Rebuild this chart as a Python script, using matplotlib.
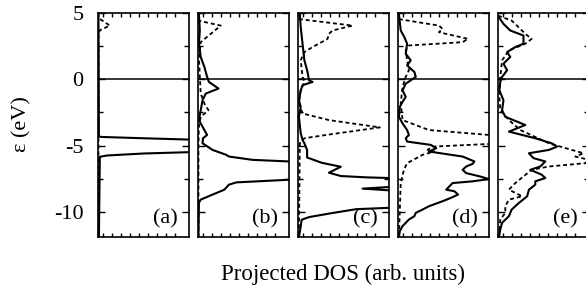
import matplotlib.pyplot as plt
from matplotlib.ticker import FixedLocator, FuncFormatter

plt.rcParams['font.family'] = ['Liberation Serif', 'DejaVu Serif']

# energies (eV) and projected DOS (arb. units, 1 = panel width) per panel
a_solid_e = [5.0, -4.3, -4.35, -4.45, -4.55, -4.62, -5.45, -5.5, -5.6, -5.75, -5.85, -11.9]
a_solid_d = [0.005, 0.01, 0.03, 0.5, 1.0, 1.3, 1.3, 1.0, 0.5, 0.1, 0.02, 0.01]
a_dot_e = [5.0, 4.6, 4.05, 3.7, 3.3, -11.9]
a_dot_d = [0.0, 0.01, 0.13, 0.02, 0.005, 0.005]

b_solid_e = [4.93, 3.68, 2.68, 1.68, 0.93, 0.18, -0.2, -0.7, -1.08, -1.58, -2.33, -3.08, -3.83, -4.2,
             -4.45, -4.83, -5.33, -5.7, -5.83, -6.08, -6.2, -6.33, -7.45, -7.58, -7.78, -7.95, -8.33,
             -8.7, -9.08, -9.33, -11.9]
b_solid_d = [0.01, 0.02, 0.01, 0.03, 0.07, 0.10, 0.12, 0.225, 0.085, 0.05, 0.03, 0.01, 0.07, 0.10,
             0.055, 0.05, 0.16, 0.31, 0.34, 0.6, 1.0, 1.3, 1.3, 1.0, 0.42, 0.34, 0.29,
             0.16, 0.03, 0.01, 0.005]
b_dot_e = [5.0, 4.43, 4.05, 2.8, 1.68, 0.18, -1.08, -1.83, -2.33, -2.83, -3.58, -4.83, -11.9]
b_dot_d = [0.0, 0.0, 0.25, 0.03, 0.01, 0.02, 0.03, 0.07, 0.115, 0.03, 0.01, 0.005, 0.005]

c_solid_e = [4.93, 3.93, 2.68, 1.43, 0.68, 0.18, -0.08, -0.2, -0.45, -0.83, -1.58, -2.08, -2.83,
             -4.08, -4.58, -4.83, -5.33, -5.9, -6.3, -6.6, -7.05, -7.3, -7.4, -7.45, -7.5,
             -8.03, -8.13, -8.25, -8.38, -8.48, -9.6, -9.7, -9.8, -10.1, -10.4, -10.6, -11.1,
             -11.9]
c_solid_d = [0.02, 0.03, 0.05, 0.07, 0.10, 0.115, 0.12, 0.16, 0.05, 0.03, 0.01, 0.03, 0.01,
             0.03, 0.05, 0.07, 0.10, 0.10, 0.26, 0.47, 0.34, 0.47, 0.75, 1.0, 1.3,
             1.3, 1.0, 0.71, 1.0, 1.3, 1.3, 1.0, 0.64, 0.37, 0.12, 0.04, 0.03,
             0.01]
c_dot_e = [5.0, 4.55, 4.05, 3.68, 3.43, 3.05, 2.43, 2.05, 1.43, 0.18, -0.2, -0.83, -1.83, -2.58,
           -3.08, -3.63, -4.2, -4.45, -4.83, -11.9]
c_dot_d = [0.0, 0.0, 0.6, 0.38, 0.34, 0.325, 0.16, 0.07, 0.03, 0.05, 0.07, 0.03, 0.01, 0.05,
           0.34, 0.9, 0.31, 0.07, 0.02, 0.01]

d_solid_e = [4.93, 3.68, 3.18, 2.68, 1.93, 1.43, 1.05, 0.55, 0.18, -0.08, -0.33, -0.83, -1.33,
             -1.7, -2.08, -2.83, -3.33, -3.83, -4.2, -4.45, -4.7, -4.95, -5.2, -5.45, -5.83, -6.2,
             -6.38, -6.58, -6.83, -7.08, -7.33, -7.53, -7.7, -7.83, -8.08, -8.33, -8.45, -8.7,
             -8.95, -9.2, -9.58, -9.83, -10.08, -10.33, -10.58, -11.08, -11.45, -11.9]
d_solid_d = [0.01, 0.03, 0.07, 0.10, 0.085, 0.14, 0.10, 0.18, 0.195, 0.14, 0.085, 0.05, 0.085,
             0.05, 0.02, 0.01, 0.05, 0.10, 0.12, 0.085, 0.10, 0.36, 0.42, 0.34, 0.71, 0.84,
             0.82, 0.75, 0.71, 0.75, 0.9, 1.0, 0.82, 0.6, 0.565, 0.53, 0.62, 0.66,
             0.58, 0.49, 0.34, 0.27, 0.195, 0.18, 0.12, 0.05, 0.02, 0.01]
d_dot_e = [5.0, 4.55, 4.05, 3.8, 3.55, 3.05, 2.8, 2.55, 2.18, 1.43, 0.68, 0.18, -0.58, -1.83,
           -3.08, -3.83, -4.2, -4.33, -4.7, -4.88, -5.08, -5.33, -5.45, -5.7, -6.33, -6.83,
           -7.83, -11.9]
d_dot_d = [0.0, 0.0, 0.45, 0.49, 0.45, 0.77, 0.71, 0.12, 0.085, 0.10, 0.12, 0.085, 0.05, 0.03,
           0.05, 0.34, 1.0, 1.3, 1.3, 1.0, 0.38, 0.325, 0.40, 0.27, 0.10, 0.065,
           0.03, 0.01]

e_solid_e = [4.68, 4.18, 3.68, 3.3, 2.68, 2.43, 2.05, 1.68, 1.18, 0.68, 0.18, -0.2, -0.83, -1.58,
             -2.33, -2.83, -3.45, -3.95, -4.45, -4.83, -5.08, -5.33, -5.58, -5.95, -6.2, -6.58,
             -6.83, -7.2, -7.45, -7.7, -7.95, -8.33, -8.83, -9.33, -9.83, -10.33, -10.83,
             -11.33, -11.9]
e_solid_d = [0.01, 0.06, 0.135, 0.28, 0.28, 0.19, 0.10, 0.135, 0.06, 0.10, 0.045, 0.025, 0.015,
             0.06, 0.045, 0.08, 0.30, 0.12, 0.41, 0.59, 0.65, 0.56, 0.34, 0.39, 0.52, 0.465,
             0.355, 0.48, 0.52, 0.41, 0.41, 0.34, 0.32, 0.23, 0.15, 0.12, 0.045,
             0.025, 0.01]
e_dot_e = [4.8, 4.43, 3.43, 3.05, 2.68, 2.18, 1.43, 0.18, -1.33, -2.33, -3.08, -3.83, -4.83,
           -5.33, -5.58, -5.83, -6.08, -6.33, -6.58, -6.83, -7.33, -7.83, -8.33, -8.83, -9.08,
           -9.58, -10.08, -10.58, -11.9]
e_dot_d = [0.0, 0.15, 0.30, 0.37, 0.30, 0.12, 0.045, 0.025, 0.015, 0.025, 0.12, 0.245, 0.56,
           0.81, 0.94, 0.85, 1.0, 0.96, 0.56, 0.37, 0.28, 0.19, 0.12, 0.265, 0.12,
           0.08, 0.08, 0.025, 0.01]

panel_labels = ['(a)', '(b)', '(c)', '(d)', '(e)']
solid = [(a_solid_e, a_solid_d), (b_solid_e, b_solid_d), (c_solid_e, c_solid_d),
         (d_solid_e, d_solid_d), (e_solid_e, e_solid_d)]
dotted = [(a_dot_e, a_dot_d), (b_dot_e, b_dot_d), (c_dot_e, c_dot_d),
          (d_dot_e, d_dot_d), (e_dot_e, e_dot_d)]

W, H = 586, 292
fig = plt.figure(figsize=(W / 100, H / 100), dpi=100)

for i, lab in enumerate(panel_labels):
    left = 98 + 100 * i
    ax = fig.add_axes([left / W, 55 / H, 91 / W, 224 / H])
    se, sd = solid[i]
    de, dd = dotted[i]
    ax.plot(dd, de, color='black', lw=1.3, ls=(0, (2.2, 1.6)))
    ax.plot(sd, se, color='black', lw=1.5)
    ax.axhline(0, color='black', lw=1.1)
    ax.set_xlim(0, 1)
    ax.set_ylim(-11.9, 5)
    ax.yaxis.set_major_locator(FixedLocator([5, 0, -5, -10]))
    ax.yaxis.set_minor_locator(FixedLocator([2.5, -2.5, -7.5]))
    ax.xaxis.set_major_locator(FixedLocator([]))
    ax.xaxis.set_minor_locator(FixedLocator([0.05 + 0.1 * k for k in range(9)]))
    ax.tick_params(axis='both', which='both', direction='in', top=True, right=True,
                   width=1.0, color='black')
    ax.tick_params(axis='y', which='major', length=5)
    ax.tick_params(axis='y', which='minor', length=3.5)
    ax.tick_params(axis='x', which='minor', length=3)
    for sp in ax.spines.values():
        sp.set_linewidth(1.2)
    if i == 0:
        ax.yaxis.set_major_formatter(FuncFormatter(lambda v, p: '%d' % v))
        ax.tick_params(axis='y', which='major', labelsize=16, pad=10.5)
    else:
        ax.set_yticklabels([])
    ax.text(0.88, 0.04, lab, transform=ax.transAxes, ha='right', va='bottom', fontsize=16)

fig.text(22 / W, 1 - 124 / H, 'ε (eV)', rotation=90, ha='center', va='center', fontsize=16)
fig.text(343 / W, 1 - 274 / H, 'Projected DOS (arb. units)', ha='center', va='center', fontsize=16.5)

fig.savefig('out.png', dpi=100)
